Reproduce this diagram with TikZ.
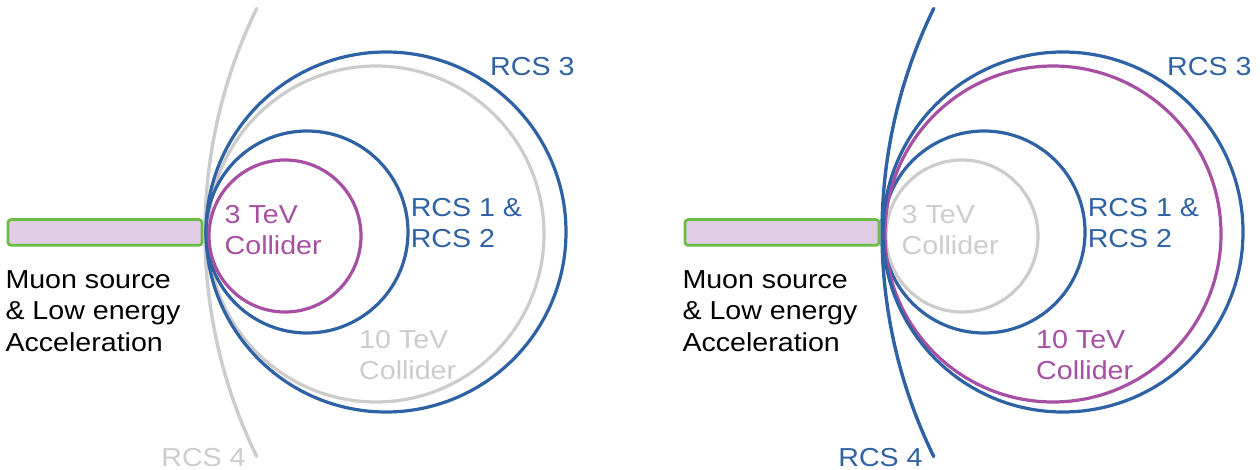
\documentclass[tikz,border=0pt]{standalone}
\usepackage{fontspec}
\newfontfamily\lab[FakeStretch=1.1]{Liberation Sans}
\definecolor{rcsblue}{HTML}{2F62A5}
\definecolor{colmag}{HTML}{A64FA3}
\definecolor{lgray}{HTML}{CCCCCC}
\definecolor{barfill}{HTML}{E0CCE4}
\definecolor{bargreen}{HTML}{6CBD45}
\tikzset{
  ring/.style={line width=3.2pt},
  arcline/.style={line width=3.4pt, line cap=round},
  barbox/.style={draw=bargreen, fill=barfill, line width=2.7pt, rounded corners=3pt},
  lbl/.style={inner sep=0pt, anchor=north west, align=left, font=\lab\fontsize{26}{31.5}\selectfont},
}
\begin{document}
\begin{tikzpicture}[x=1pt,y=-1pt]
\useasboundingbox (0,0) rectangle (1260,470);
% ---------- left panel ----------
\begin{scope}
  \draw[arcline, lgray] (716,232.5) ++(154:511) arc[start angle=154, end angle=206, radius=511];
  \draw[ring, lgray] (376,234) circle[radius=168];
  \draw[ring, rcsblue] (386,232) circle[radius=180];
  \draw[ring, rcsblue] (307,232) circle[radius=101];
  \draw[ring, colmag] (285,236) circle[radius=76];
  \draw[barbox] (8,219.6) rectangle (202,245.3);
  \node[lbl] (muonL) at (5.3,270) {Muon source\\\& Low energy\\Acceleration};
  \node[lbl, text=colmag] (c3L) at (224.5,205) {3 TeV\\Collider};
  \node[lbl, text=rcsblue] (r12L) at (410.6,198) {RCS 1 \&\\RCS 2};
  \node[lbl, text=rcsblue] (r3L) at (490,57) {RCS 3};
  \node[lbl, text=lgray] (c10L) at (359,330) {10 TeV\\Collider};
  \node[lbl, text=lgray] (r4L) at (161.2,448.3) {RCS 4};
\end{scope}
% ---------- right panel ----------
\begin{scope}[xshift=677pt]
  \draw[ring, lgray] (285,236) circle[radius=76];
  \draw[ring, rcsblue] (307,232) circle[radius=101];
  \draw[ring, colmag] (376,234) circle[radius=168];
  \draw[ring, rcsblue] (386,232) circle[radius=180];
  \draw[arcline, rcsblue] (716,232.5) ++(154:511) arc[start angle=154, end angle=206, radius=511];
  \draw[barbox] (8,219.6) rectangle (202,245.3);
  \node[lbl] (muonR) at (5.3,270) {Muon source\\\& Low energy\\Acceleration};
  \node[lbl, text=lgray] (c3R) at (224.5,205) {3 TeV\\Collider};
  \node[lbl, text=rcsblue] (r12R) at (410.6,198) {RCS 1 \&\\RCS 2};
  \node[lbl, text=rcsblue] (r3R) at (490,57) {RCS 3};
  \node[lbl, text=colmag] (c10R) at (359,330) {10 TeV\\Collider};
  \node[lbl, text=rcsblue] (r4R) at (161.2,448.3) {RCS 4};
\end{scope}
\end{tikzpicture}
\end{document}
